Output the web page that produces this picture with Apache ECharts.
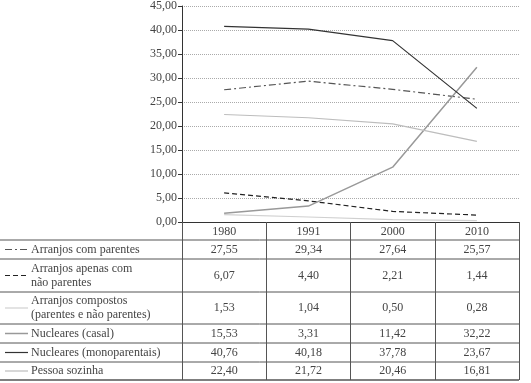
<!DOCTYPE html>
<html>
<head>
<meta charset="utf-8">
<script src="https://cdn.jsdelivr.net/npm/echarts@6/dist/echarts.min.js"></script>
<style>
  html, body { margin: 0; padding: 0; background: #fff; }
  #main { width: 531px; height: 383px; }
</style>
</head>
<body>
<div id="main"></div>
<script>
  // dados
  var anos = ['1980', '1991', '2000', '2010'];
  var comParentes = [27.55, 29.34, 27.64, 25.57];
  var apenasNaoParentes = [6.07, 4.40, 2.21, 1.44];
  var compostos = [1.53, 1.04, 0.50, 0.28];
  var nuclearesCasal = [15.53, 3.31, 11.42, 32.22];        // como impresso na tabela
  var nuclearesCasalLinha = [1.8, 3.31, 11.42, 32.22];     // como desenhado no gráfico
  var monoparentais = [40.76, 40.18, 37.78, 23.67];
  var pessoaSozinha = [22.40, 21.72, 20.46, 16.81];

  var fonte = '"Liberation Serif", "DejaVu Serif", serif';
  function fmt(v) { return v.toFixed(2).replace('.', ','); }

  // linhas da tabela: rótulo, valores, estilo, limites verticais
  var linhas = [
    { nome: ['Arranjos com parentes'], val: comParentes, cor: '#555', tipo: [7, 3, 2, 3], y0: 240, y1: 259 },
    { nome: ['Arranjos apenas com', 'não parentes'], val: apenasNaoParentes, cor: '#222', tipo: [5, 3], y0: 259, y1: 292 },
    { nome: ['Arranjos compostos', '(parentes e não parentes)'], val: compostos, cor: '#d0d0d0', tipo: 'solid', y0: 292, y1: 324 },
    { nome: ['Nucleares (casal)'], val: nuclearesCasal, cor: '#999', tipo: 'solid', y0: 324, y1: 343 },
    { nome: ['Nucleares (monoparentais)'], val: monoparentais, cor: '#333', tipo: 'solid', y0: 343, y1: 362 },
    { nome: ['Pessoa sozinha'], val: pessoaSozinha, cor: '#bdbdbd', tipo: 'solid', y0: 362, y1: 380 }
  ];
  var linhasGrafico = [comParentes, apenasNaoParentes, compostos, nuclearesCasalLinha, monoparentais, pessoaSozinha];

  var myChart = echarts.init(document.getElementById('main'));
  var option = {
    animation: false,
    grid: { left: 182, right: 12, top: 6, bottom: 161 },
    xAxis: {
      type: 'category',
      data: anos,
      boundaryGap: true,
      axisLine: { lineStyle: { color: '#333', width: 1 } },
      axisTick: { show: true, length: 158, lineStyle: { color: '#555', width: 1 } },
      axisLabel: { color: '#444', fontFamily: fonte, fontSize: 12, margin: 4 }
    },
    yAxis: {
      type: 'value',
      min: 0, max: 45, interval: 5,
      axisLine: { show: true, lineStyle: { color: '#333' } },
      axisTick: { show: true, length: 4, lineStyle: { color: '#333' } },
      axisLabel: { color: '#444', fontFamily: fonte, fontSize: 12, margin: 5, formatter: fmt },
      splitLine: { lineStyle: { color: '#aaa', type: [1, 1], width: 1 } }
    },
    series: linhas.map(function (l, i) {
      return {
        name: l.nome.join(' '),
        type: 'line',
        data: linhasGrafico[i],
        symbol: 'none',
        lineStyle: { color: l.cor, width: i === 3 ? 1.5 : 1.2, type: l.tipo }
      };
    })
  };
  myChart.setOption(option);

  // tabela abaixo do gráfico
  var graf = [];
  var xs = anos.map(function (a) { return myChart.convertToPixel({ xAxisIndex: 0 }, a); });
  linhas.forEach(function (l, i) {
    graf.push({ type: 'line', shape: { x1: 0, y1: l.y0, x2: 519, y2: l.y0 }, style: { stroke: '#555', lineWidth: 1 } });
    var yc = (l.y0 + l.y1) / 2;
    graf.push({ type: 'line', shape: { x1: 5, y1: yc, x2: 28, y2: yc },
      style: { stroke: l.cor, lineWidth: i === 3 ? 1.5 : 1.2, lineDash: l.tipo === 'solid' ? null : l.tipo } });
    graf.push({ type: 'text', x: 31, y: yc,
      style: { text: l.nome.join('\n'), font: '12px ' + fonte, fill: '#444', verticalAlign: 'middle', lineHeight: 14 } });
    l.val.forEach(function (v, j) {
      graf.push({ type: 'text', x: xs[j], y: yc,
        style: { text: fmt(v), font: '12px ' + fonte, fill: '#444', align: 'center', verticalAlign: 'middle' } });
    });
  });
  graf.push({ type: 'line', shape: { x1: 0, y1: 380, x2: 519, y2: 380 }, style: { stroke: '#555', lineWidth: 1.5 } });
  myChart.setOption({ graphic: graf });
</script>
</body>
</html>
